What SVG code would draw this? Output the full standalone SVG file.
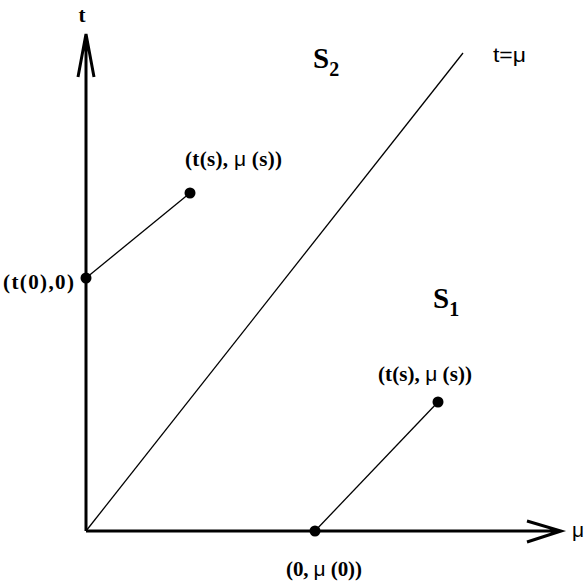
<svg xmlns="http://www.w3.org/2000/svg" width="586" height="588" viewBox="0 0 586 588">
<style>
.ax{stroke:#000;stroke-width:3;fill:none}
.ln{stroke:#000;stroke-width:1.3;fill:none}
.lb{font-family:"Liberation Serif",serif;font-weight:bold;font-size:21px;fill:#000}
.mu{font-family:"Liberation Sans",sans-serif;font-weight:normal}
.sl{font-family:"Liberation Sans",sans-serif;font-size:21px;fill:#000}
.big{font-family:"Liberation Serif",serif;font-weight:bold;font-size:29px;fill:#000}
</style>
<rect width="586" height="588" fill="#fff"/>
<g id="connectors">
<path class="ax" d="M86 531V34M78 77L86 34L94 77"/>
<path class="ax" d="M86 531H561M527 521L561 531L527 542"/>
<path class="ln" d="M86 531L463 53"/>
<path class="ln" d="M86 278L190 193"/>
<path class="ln" d="M315 531L438 402"/>
</g>
<g id="axis-t"><text class="lb" x="82" y="22" text-anchor="middle" font-size="23">t</text></g>
<g id="axis-mu"><text class="sl" x="572" y="537">μ</text></g>
<g id="line-label"><text class="sl" x="493" y="62" font-size="22" textLength="33" lengthAdjust="spacingAndGlyphs">t=μ</text></g>
<g id="S2"><text class="big" x="313" y="68">S<tspan font-size="20" dy="8">2</tspan></text></g>
<g id="S1"><text class="big" x="433" y="308">S<tspan font-size="20" dy="8">1</tspan></text></g>
<g id="p1"><circle cx="190" cy="193" r="5.5"/><text class="lb" x="185" y="166" textLength="97">(t(s), <tspan class="mu">μ</tspan> (s))</text></g>
<g id="p0"><circle cx="86" cy="278" r="5.5"/><text class="lb" x="3" y="289" textLength="71">(t(0),0)</text></g>
<g id="p2"><circle cx="438" cy="402" r="5.5"/><text class="lb" x="378" y="381" textLength="94">(t(s), <tspan class="mu">μ</tspan> (s))</text></g>
<g id="p3"><circle cx="315" cy="531" r="5.5"/><text class="lb" x="286" y="576" textLength="76">(0, <tspan class="mu">μ</tspan> (0))</text></g>
</svg>
